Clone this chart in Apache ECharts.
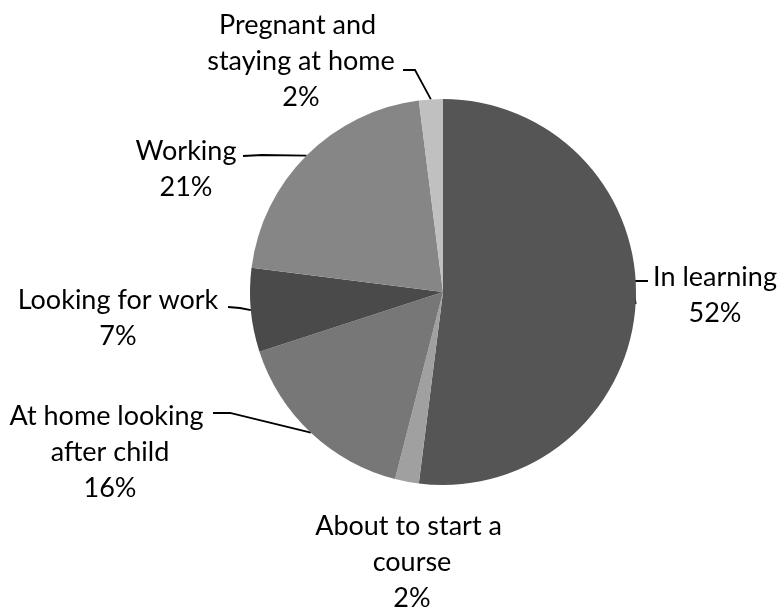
<!DOCTYPE html>
<html>
<head>
<meta charset="utf-8">
<script src="https://cdn.jsdelivr.net/npm/echarts@6/dist/echarts.min.js"></script>
<style>
  html, body { margin: 0; background: #fff; }
  #main { width: 780px; height: 610px; }
</style>
</head>
<body>
<div id="main"></div>
<script>
const categories = [
  "In learning",
  "About to start a course",
  "At home looking after child",
  "Looking for work",
  "Working",
  "Pregnant and staying at home",
];
const values = [52, 2, 16, 7, 21, 2];
const colors = ["#555555", "#a0a0a0", "#777777", "#4a4a4a", "#868686", "#c0c0c0"];

// where each label sits (centre of text block) and the leader line bends
const labelSpots = [
  { x: 715, y: 295, line: [[633, 281], [648, 281]] },
  { x: 412, y: 562, line: null },
  { x: 110, y: 452, line: [[230, 413], [213, 413]] },
  { x: 118, y: 318, line: [[240, 308], [228, 307]] },
  { x: 186, y: 169, line: [[262, 155], [243, 156]] },
  { x: 301, y: 61, line: [[415, 70], [403, 70]] },
];

let myChart = echarts.init(document.getElementById("main"));

let pieData = categories.map((name, i) => {
  return {
    name: name,
    value: values[i],
    itemStyle: { color: colors[i] },
    labelLine: { show: labelSpots[i].line !== null },
  };
});

let option = {
  animation: false,
  series: [
    {
      type: "pie",
      center: [443, 292],
      radius: 193,
      startAngle: 90,
      clockwise: true,
      itemStyle: { borderWidth: 0 },
      label: {
        show: true,
        formatter: "{b}\n{d}%",
        fontFamily: "Lato",
        fontSize: 27,
        lineHeight: 36,
        color: "#000",
        width: 215,
        overflow: "break",
        align: "center",
      },
      labelLine: {
        show: true,
        lineStyle: { color: "#000", width: 1.8 },
      },
      labelLayout: (params) => {
        let spot = labelSpots[params.dataIndex];
        let res = {
          x: spot.x,
          y: spot.y,
          align: "center",
          verticalAlign: "middle",
        };
        if (spot.line && params.labelLinePoints) {
          res.labelLinePoints = [params.labelLinePoints[0], spot.line[0], spot.line[1]];
        }
        return res;
      },
      data: pieData,
    },
  ],
};
myChart.setOption(option);
</script>
</body>
</html>
